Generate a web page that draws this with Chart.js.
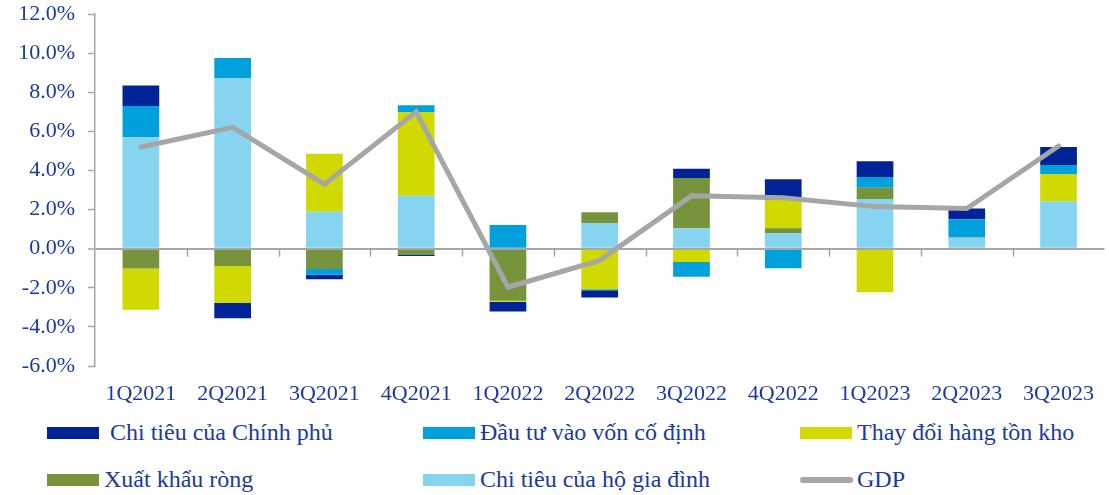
<!DOCTYPE html>
<html>
<head>
<meta charset="utf-8">
<script src="https://cdn.jsdelivr.net/npm/chart.js@4.4.0/dist/chart.umd.min.js"></script>
<style>
  html, body { margin: 0; padding: 0; background: #ffffff; }
  #wrap { position: relative; width: 1109px; height: 495px; overflow: hidden; }
  #chartBox { position: absolute; left: 0; top: 0; width: 1109px; height: 410px; }
  .lg { position: absolute; font-family: "Liberation Serif", serif; font-size: 24px; color: #1B3A9C; white-space: nowrap; line-height: 24px; }
  .sw { position: absolute; }
</style>
</head>
<body>
<div id="wrap">
  <div id="chartBox"><canvas id="c" width="1109" height="410"></canvas></div>
  <div id="legend"></div>
</div>
<script>
const categories = ["1Q2021","2Q2021","3Q2021","4Q2021","1Q2022","2Q2022","3Q2022","4Q2022","1Q2023","2Q2023","3Q2023"];
const household  = [5.70, 8.73, 1.89, 2.71, 0.00, 1.31, 1.04, 0.79, 2.54, 0.56, 2.42];
const netExports = [-1.02, -0.88, -1.04, -0.32, -2.66, 0.55, 2.57, 0.25, 0.58, 0.03, 0.00];
const inventory  = [-2.10, -1.90, 2.97, 4.28, -0.05, -2.08, -0.68, 1.45, -2.23, 0.00, 1.40];
const fixedInv   = [1.60, 1.02, -0.29, 0.34, 1.21, -0.05, -0.75, -1.00, 0.55, 0.92, 0.46];
const government = [1.05, -0.78, -0.23, -0.05, -0.50, -0.37, 0.48, 1.06, 0.80, 0.55, 0.92];
const gdp        = [5.20, 6.20, 3.30, 7.00, -1.97, -0.60, 2.70, 2.60, 2.15, 2.05, 5.25];
const yTickValues = [-6, -4, -2, 0, 2, 4, 6, 8, 10, 12];
const seriesNames = ["Chi tiêu của Chính phủ","Đầu tư vào vốn cố định","Thay đổi hàng tồn kho","Xuất khẩu ròng","Chi tiêu của hộ gia đình","GDP"];

const C = { gov:"#002395", fix:"#00A0DC", inv:"#D0DA00", net:"#77933C", hh:"#87D4F0", gdp:"#A6A6A6", text:"#1B3A9C", axis:"#A6A6A6" };

const barBase = { type:'bar', order:1, stack:'s', barPercentage:0.4, categoryPercentage:1.0, borderWidth:0 };
const datasets = [
  Object.assign({}, barBase, { label:seriesNames[4], data:household,  backgroundColor:C.hh }),
  Object.assign({}, barBase, { label:seriesNames[3], data:netExports, backgroundColor:C.net }),
  Object.assign({}, barBase, { label:seriesNames[2], data:inventory,  backgroundColor:C.inv }),
  Object.assign({}, barBase, { label:seriesNames[1], data:fixedInv,   backgroundColor:C.fix }),
  Object.assign({}, barBase, { label:seriesNames[0], data:government, backgroundColor:C.gov }),
  { type:'line', order:0, stack:'g', label:seriesNames[5], data:gdp, borderColor:C.gdp, backgroundColor:C.gdp,
    borderWidth:5, pointRadius:0, tension:0, fill:false, borderCapStyle:'round', borderJoinStyle:'miter' }
];

const zeroTicks = {
  id:'zeroTicks',
  afterDatasetsDraw(chart) {
    const x = chart.scales.x, y = chart.scales.y, ctx = chart.ctx;
    const y0 = y.getPixelForValue(0);
    ctx.save();
    ctx.strokeStyle = C.axis; ctx.lineWidth = 1.5;
    for (let i = 1; i < categories.length; i++) {
      const px = Math.round(x.getPixelForValue(i - 0.5)) + 0.5;
      ctx.beginPath(); ctx.moveTo(px, y0); ctx.lineTo(px, y0 + 8); ctx.stroke();
    }
    ctx.restore();
  }
};

const chart = new Chart(document.getElementById('c'), {
  data: { labels: categories, datasets },
  plugins: [zeroTicks],
  options: {
    responsive:false, devicePixelRatio:1, animation:false,
    layout:{ padding:{ top:14, left:0, right:0, bottom:0 } },
    plugins:{ legend:{ display:false }, tooltip:{ enabled:false }, title:{ display:false } },
    scales:{
      x:{ stacked:true, offset:true,
          grid:{ display:false, drawTicks:false },
          border:{ display:false },
          ticks:{ color:C.text, font:{ family:"Liberation Serif", size:22 }, padding:15, maxRotation:0, autoSkip:false },
          afterFit(s){ s.height = 44; } },
      y:{ stacked:true, min:-6, max:12,
          afterBuildTicks(s){ s.ticks = yTickValues.map(v => ({ value:v })); },
          grid:{ drawOnChartArea:true, z:1, tickLength:7, tickColor:C.axis, tickWidth:1.5,
                 color:(ctx)=> (ctx.tick && ctx.tick.value === 0) ? C.axis : 'rgba(0,0,0,0)',
                 lineWidth:(ctx)=> (ctx.tick && ctx.tick.value === 0) ? 2 : 1 },
          border:{ display:true, color:C.axis, width:1.5, z:1 },
          ticks:{ color:C.text, font:{ family:"Liberation Serif", size:22 }, padding:13,
                  callback:(v)=> Number(v).toFixed(1) + '%' },
          afterFit(s){ s.width = 95; s.paddingTop = 0; s.paddingBottom = 0; } }
    }
  }
});

// HTML legend (3 columns x 2 rows), built from the chart's datasets
const legendOrder = [4, 3, 2, 1, 0, 5]; // dataset indices in legend order
const colX = [47, 423, 800];
const rowY = [433, 480];
const textX = [110, 480, 857];
const lg = document.getElementById('legend');
legendOrder.forEach((di, k) => {
  const ds = chart.data.datasets[di];
  const col = k % 3, row = Math.floor(k / 3);
  const sw = document.createElement('div');
  sw.className = 'sw';
  if (ds.type === 'line') {
    sw.style.cssText = `left:${colX[col]}px;top:${rowY[row]-3}px;width:53px;height:6px;border-radius:3px;background:${ds.borderColor};`;
  } else {
    sw.style.cssText = `left:${colX[col]}px;top:${rowY[row]-6}px;width:52px;height:12px;background:${ds.backgroundColor};`;
  }
  lg.appendChild(sw);
  const t = document.createElement('div');
  t.className = 'lg';
  t.textContent = ds.label;
  t.style.left = ((row === 1 && col === 0) ? 104 : textX[col]) + 'px';
  t.style.top = (rowY[row] - 13) + 'px';
  lg.appendChild(t);
});
</script>
</body>
</html>
